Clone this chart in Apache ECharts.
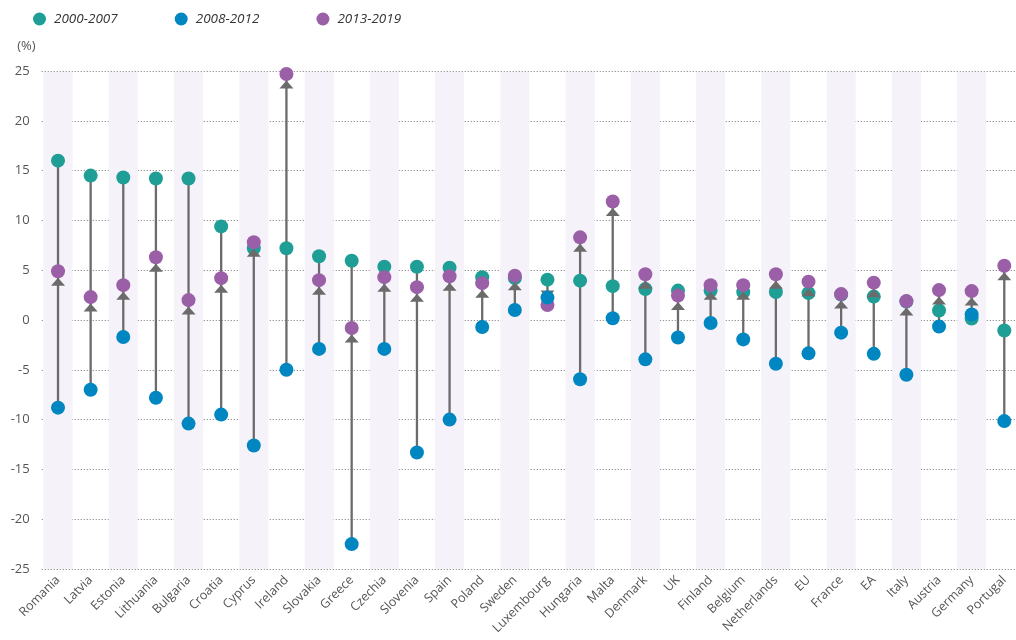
<!DOCTYPE html>
<html><head><meta charset="utf-8">
<script src="https://cdn.jsdelivr.net/npm/echarts@6/dist/echarts.min.js"></script>
<style>html,body{margin:0;padding:0;background:#fff}#c{width:1016px;height:640px}</style>
</head><body><div id="c"></div>
<script>
const categories = ["Romania","Latvia","Estonia","Lithuania","Bulgaria","Croatia","Cyprus","Ireland","Slovakia","Greece","Czechia","Slovenia","Spain","Poland","Sweden","Luxembourg","Hungaria","Malta","Denmark","UK","Finland","Belgium","Netherlands","EU","France","EA","Italy","Austria","Germany","Portugal"];
const s2000 = [16.0,14.5,14.3,14.2,14.2,9.4,7.2,7.2,6.4,5.95,5.35,5.35,5.25,4.3,4.2,4.05,3.95,3.4,3.1,2.95,2.95,2.8,2.8,2.7,2.55,2.35,1.85,0.95,0.15,-1.05];
const s2008 = [-8.8,-7.0,-1.7,-7.8,-10.4,-9.5,-12.6,-5.0,-2.9,-22.5,-2.9,-13.3,-10.0,-0.7,1.0,2.25,-5.95,0.17,-3.95,-1.75,-0.3,-1.95,-4.4,-3.35,-1.27,-3.4,-5.5,-0.65,0.55,-10.15];
const s2013 = [4.9,2.3,3.5,6.3,2.0,4.2,7.8,24.7,4.0,-0.8,4.3,3.3,4.4,3.7,4.45,1.5,8.3,11.9,4.6,2.45,3.5,3.5,4.6,3.85,2.6,3.75,1.9,3.0,2.9,5.45];
const yTicks = {min:-25, max:25, interval:5};
const seriesNames = ["2000-2007","2008-2012","2013-2019"];
const colors = ["#1f9e96","#0086c1","#9b5fa8"];

const rows = categories.map((c,i)=>[i, s2000[i], s2008[i], s2013[i]]);
const bandRows = categories.map((c,i)=>[i]).filter(r=>r[0]%2===0);
const chart = echarts.init(document.getElementById('c'));
const F = '"Open Sans", "Noto Sans", sans-serif';
chart.setOption({
  animation:false,
  textStyle:{fontFamily:F},
  legend:{
    data:seriesNames, left:28, top:7, icon:'circle', itemWidth:13, itemHeight:13, itemGap:57,
    textStyle:{fontFamily:F, fontStyle:'italic', fontSize:13.5, color:'#333', padding:[0,0,0,3]}
  },
  grid:{left:41.7, right:-4.6, top:71, bottom:71, outerBoundsMode:'none', containLabel:false},
  xAxis:{
    type:'category', data:categories, boundaryGap:true,
    axisLine:{show:false}, axisTick:{show:false},
    axisLabel:{rotate:45, interval:0, fontSize:12.5, color:'#555', margin:9, fontFamily:F},
    splitLine:{show:false}
  },
  yAxis:{
    type:'value', min:yTicks.min, max:yTicks.max, interval:yTicks.interval,
    name:'(%)', nameLocation:'end', nameGap:18,
    nameTextStyle:{color:'#555', fontSize:13, align:'right', padding:[0,6,0,0], fontFamily:F},
    axisLine:{show:false}, axisTick:{show:false},
    axisLabel:{color:'#555', fontSize:13, margin:12, fontFamily:F},
    splitLine:{lineStyle:{type:[1.2,1.8], color:'#8c8c8c', width:1}}
  },
  series:[
    {
      type:'custom', name:'bands', silent:true, z:0, data:bandRows,
      encode:{x:0},
      renderItem:function(params, api){
        const i = api.value(0);
        const top = api.coord([i, yTicks.max]);
        const bot = api.coord([i, yTicks.min]);
        const w = api.size([1,0])[0]*0.89;
        return {type:'rect', shape:{x:top[0]-w/2, y:top[1]+1, width:w, height:bot[1]-top[1]-1}, style:{fill:'#f5f2fa'}};
      }
    },
    {
      type:'custom', name:'lines', silent:true, z:1, data:rows,
      encode:{x:0, y:[1,2,3]},
      renderItem:function(params, api){
        const i = api.value(0);
        const v = [api.value(1), api.value(2), api.value(3)];
        const lo = api.coord([i, Math.min.apply(null,v)]);
        const hi = api.coord([i, Math.max.apply(null,v)]);
        return {type:'line', shape:{x1:lo[0], y1:lo[1], x2:hi[0], y2:hi[1]}, style:{stroke:'#6b6b6b', lineWidth:2.3}};
      }
    },
    {type:'scatter', name:seriesNames[0], z:2, symbolSize:14, data:rows.map(r=>[r[0], r[1]]), itemStyle:{color:colors[0], opacity:1}},
    {
      type:'custom', name:'arrows', silent:true, z:3, data:rows,
      encode:{x:0, y:[2,3]},
      renderItem:function(params, api){
        const i = api.value(0);
        const b = api.value(2), p = api.value(3);
        const pp = api.coord([i, p]);
        const d = p >= b ? 1 : -1;
        const tipY = pp[1] + d*6.5, baseY = pp[1] + d*14.5;
        return {type:'polygon', shape:{points:[[pp[0], tipY],[pp[0]-7, baseY],[pp[0]+7, baseY]]}, style:{fill:'#6b6b6b'}};
      }
    },
    {type:'scatter', name:seriesNames[2], z:4, symbolSize:14, data:rows.map(r=>[r[0], r[3]]), itemStyle:{color:colors[2], opacity:1}},
    {type:'scatter', name:seriesNames[1], z:5, symbolSize:14, data:rows.map(r=>[r[0], r[2]]), itemStyle:{color:colors[1], opacity:1}}
  ]
});
</script></body></html>
